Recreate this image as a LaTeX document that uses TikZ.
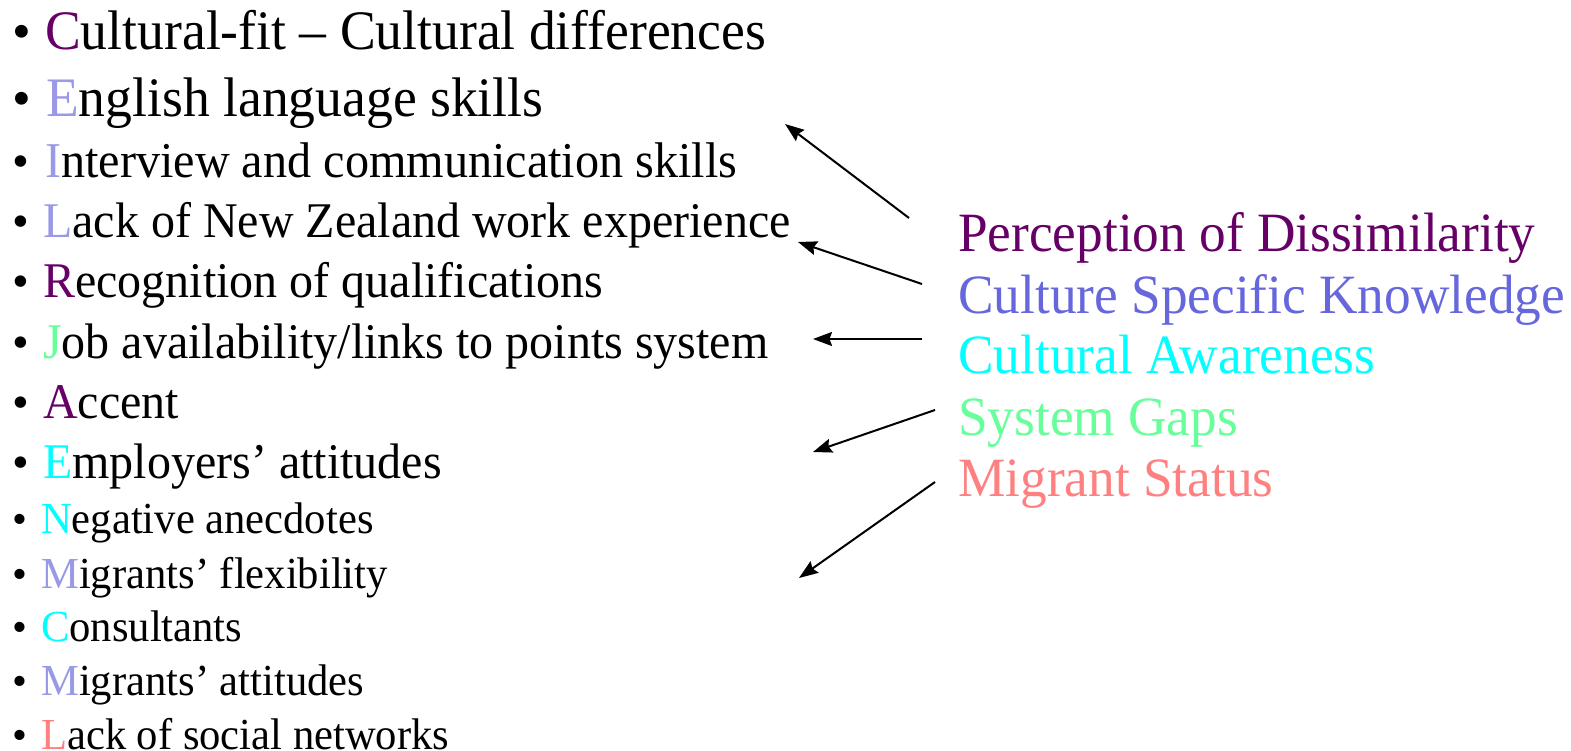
\documentclass[tikz,border=0pt]{standalone}
\usepackage{graphicx}
\usepackage{fontspec}
\setmainfont{Liberation Serif}
\usetikzlibrary{arrows.meta}

\definecolor{plum}{HTML}{660066}
\definecolor{lavender}{HTML}{9999E6}
\definecolor{periwinkle}{HTML}{6666DD}
\definecolor{aqua}{HTML}{00FFFF}
\definecolor{mint}{HTML}{66FF99}
\definecolor{salmon}{HTML}{FF8080}

% slightly taller lettering
\newcommand{\tall}[1]{\scalebox{1}[1.04]{#1}}

\begin{document}
\begin{tikzpicture}[x=1pt, y=-1pt,
    item/.style={anchor=base west, inner sep=0pt},
    factor/.style={anchor=base west, inner sep=0pt, font=\fontsize{53.3}{60}\selectfont},
    link/.style={-{Stealth[length=19pt, width=14pt, inset=2.5pt]}, line width=2pt}]

\useasboundingbox (0,0) rectangle (1571,751);

% One bullet line: #1 name, #2 baseline, #3 text x, #4 size, #5 colour, #6 initial, #7 rest
\newcommand{\drawbarrier}[7]{
    \node[item, font=\fontsize{#4}{#4}\selectfont] (#1b) at (12,#2) {\textbullet};
    \node[item, font=\fontsize{#4}{#4}\selectfont] (#1) at (#3,#2) {\tall{\textcolor{#5}{#6}#7}};
}

% Barriers listed on the left
\drawbarrier{fit}{50}{45}{53.6}{plum}{C}{ultural-fit -- Cultural differences}
\drawbarrier{english}{117}{46}{53.6}{lavender}{E}{nglish language skills}
\drawbarrier{interview}{178}{45}{48.2}{lavender}{I}{nterview and communication skills}
\drawbarrier{nzwork}{238}{43}{48}{lavender}{L}{ack of New Zealand work experience}
\drawbarrier{quals}{298}{43}{48}{plum}{R}{ecognition of qualifications}
\drawbarrier{jobs}{358}{43}{48}{mint}{J}{ob availability/links to points system}
\drawbarrier{accent}{418}{43}{48}{plum}{A}{ccent}
\drawbarrier{employers}{478}{43}{48}{aqua}{E}{mployers’ attitudes}
\drawbarrier{anecdotes}{533}{41}{42.6}{aqua}{N}{egative anecdotes}
\drawbarrier{flex}{588}{41}{42.6}{lavender}{M}{igrants’ flexibility}
\drawbarrier{consult}{641}{41}{42.6}{aqua}{C}{onsultants}
\drawbarrier{attitudes}{695}{41}{42.6}{lavender}{M}{igrants’ attitudes}
\drawbarrier{networks}{749}{41}{42.6}{salmon}{L}{ack of social networks}

% Underlying factors on the right
\node[factor, text=plum] (perc) at (958,252) {\tall{Perception of Dissimilarity}};
\node[factor, text=periwinkle] (csk) at (958,313) {\tall{Culture Specific Knowledge}};
\node[factor, text=aqua] (aware) at (958,373) {\tall{Cultural Awareness}};
\node[factor, text=mint] (gaps) at (958,435) {\tall{System Gaps}};
\node[factor, text=salmon] (status) at (958,496) {\tall{Migrant Status}};

% Arrow ends
\coordinate (percT) at (909,218);   \coordinate (percH) at (785,124);
\coordinate (cskT) at (922,284);    \coordinate (cskH) at (798,242);
\coordinate (awareT) at (922,339);  \coordinate (awareH) at (813,339);
\coordinate (gapsT) at (935,410);   \coordinate (gapsH) at (813,452);
\coordinate (statusT) at (935,482); \coordinate (statusH) at (799,578);

\draw[link] (percT) -- (percH);
\draw[link] (cskT) -- (cskH);
\draw[link] (awareT) -- (awareH);
\draw[link] (gapsT) -- (gapsH);
\draw[link] (statusT) -- (statusH);

\end{tikzpicture}
\end{document}
